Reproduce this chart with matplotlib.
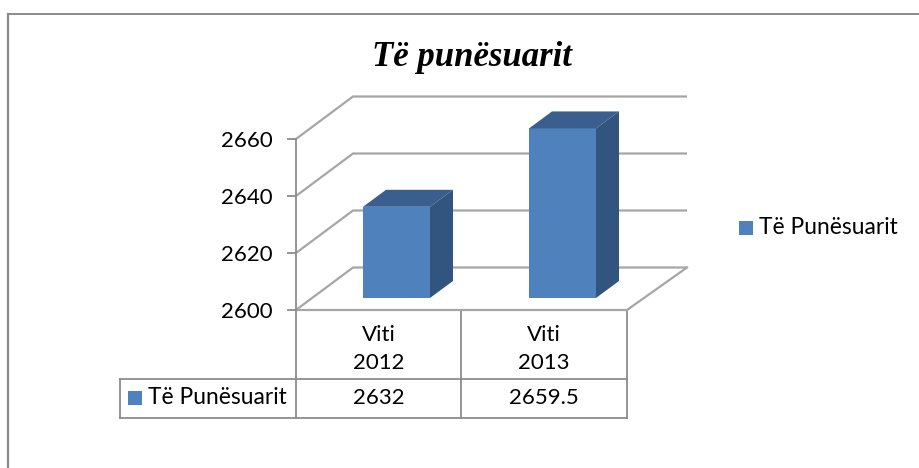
import matplotlib
matplotlib.use("Agg")
import matplotlib.pyplot as plt
from matplotlib.patches import Polygon, Rectangle

# dane
lata = ["Viti\n2012", "Viti\n2013"]
wartosci = [2632, 2659.5]
etykiety_tabeli = ["2632", "2659.5"]
seria = "Të Punësuarit"
tytul = "Të punësuarit"
y_ticks = [2600, 2620, 2640, 2660]

W, H = 920, 468
NIEBIESKI = "#4f81bd"
GORA = "#3a5f8e"
BOK = "#325580"
SZARY = "#8c8c8c"
LINIA = "#a6a6a6"

plt.rcParams["font.family"] = ["Lato", "DejaVu Sans"]

fig = plt.figure(figsize=(W / 100, H / 100), dpi=100, facecolor="white")

# warstwa w pikselach: ramka, tytul, legenda, tabela
bg = fig.add_axes([0, 0, 1, 1])
bg.set_xlim(0, W)
bg.set_ylim(H, 0)
bg.axis("off")

bg.plot([8, 8], [H, 14], color="#8a8a8a", lw=1.6)
bg.plot([8, 920], [14, 14], color="#8a8a8a", lw=1.4)
bg.text(472, 57, tytul, family="Liberation Serif", style="italic", weight="bold",
        fontsize=25, ha="center", va="center", color="black")

bg.add_patch(Rectangle((739, 221), 14, 14, color=NIEBIESKI, lw=0))
bg.text(759, 228, seria, fontsize=16.4, va="center", color="black")

# wykres: os w jednostkach danych, 3D to przesuniecie glebi
ax = fig.add_axes([296 / W, 1 - 310 / H, 331 / W, 171 / H])
ax.patch.set_alpha(0)
ax.set_xlim(0, 2)
ax.set_ylim(2600, 2660)
for s in ["top", "right", "bottom"]:
    ax.spines[s].set_visible(False)
ax.spines["left"].set_color(SZARY)
ax.spines["left"].set_linewidth(1.3)
ax.set_xticks([])
ax.set_yticks(y_ticks)
ax.tick_params(axis="y", length=6.5, width=1.3, color=SZARY, pad=10.5, labelsize=16)

px_x = 2 / 331
px_y = 60 / 171
dx, dy = 57 * px_x, 42.5 * px_y  # glebia podlogi
prawa = 391 * px_x
for v in y_ticks:
    ax.plot([0, dx, prawa], [v, v + dy, v + dy],
            color=LINIA, lw=1.6, clip_on=False, zorder=1, solid_capstyle="butt")
# podloga
ax.plot([0, 2], [2600, 2600], color=LINIA, lw=1.6, clip_on=False, zorder=1)
ax.plot([2, prawa], [2600, 2600 + dy], color=LINIA, lw=1.6, clip_on=False, zorder=1)

# slupki
szer = 67 * px_x
ddx, ddy = 23 * px_x, 17 * px_y
start_y = 12 * px_y
for i, v in enumerate(wartosci):
    x0 = (67 if i == 0 else 233) * px_x
    x1 = x0 + szer
    y0 = 2600 + start_y
    y1 = v + start_y
    ax.add_patch(Rectangle((x0, y0), szer, y1 - y0, color=NIEBIESKI, lw=0, zorder=3, clip_on=False))
    ax.add_patch(Polygon([(x0, y1), (x1, y1), (x1 + ddx, y1 + ddy), (x0 + ddx, y1 + ddy)],
                         color=GORA, lw=0, zorder=3, clip_on=False))
    ax.add_patch(Polygon([(x1, y0), (x1 + ddx, y0 + ddy), (x1 + ddx, y1 + ddy), (x1, y1)],
                         color=BOK, lw=0, zorder=3, clip_on=False))

# tabela danych
kol = dict(color=SZARY, lw=1.3, solid_capstyle="projecting")
bg.plot([296, 296], [310, 418], **kol)
bg.plot([461, 461], [310, 418], **kol)
bg.plot([627, 627], [310, 418], **kol)
bg.plot([120, 120], [379, 418], **kol)
bg.plot([120, 627], [379, 379], **kol)
bg.plot([120, 627], [418, 418], **kol)
for i, (rok, et) in enumerate(zip(lata, etykiety_tabeli)):
    xc = 378.5 + i * 165.5
    bg.text(xc, 349, rok, fontsize=16, ha="center", va="center", linespacing=1.45, color="black")
    bg.text(xc, 398, et, fontsize=16, ha="center", va="center", color="black")
bg.add_patch(Rectangle((128, 391), 14, 14, color=NIEBIESKI, lw=0))
bg.text(148, 398, seria, fontsize=16.4, va="center", color="black")

fig.savefig("out.png", dpi=100)
